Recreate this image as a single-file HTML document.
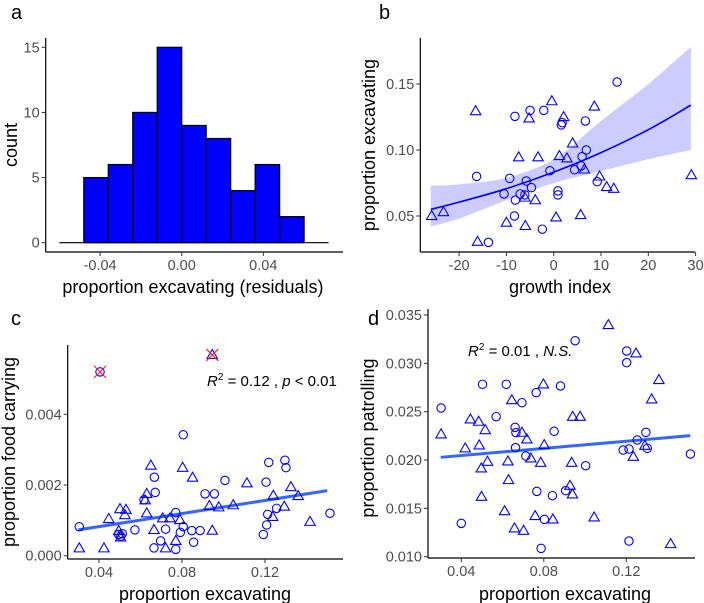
<!DOCTYPE html>
<html><head><meta charset="utf-8"><style>
html,body{margin:0;padding:0;background:#fff}
svg{display:block;font-family:"Liberation Sans",Arial,sans-serif}
.tk{fill:#4d4d4d;font-size:14.5px}
.tt{fill:#000;font-size:18px}
.lt{fill:#000;font-size:20px}
</style></head><body>
<svg id="s" width="704" height="603" viewBox="0 0 704 603" xmlns="http://www.w3.org/2000/svg"></svg>
<script>
// ---- panel a data ----
const histBinStart = [-0.048,-0.036,-0.024,-0.012,0,0.012,0.024,0.036,0.048];
const histCounts = [5,6,10,15,9,8,4,6,2];
const histBinWidth = 0.012;
const aXTicks = [-0.04,0,0.04];
const aXTickLabels = ["-0.04","0.00","0.04"];
const aYTicks = [0,5,10,15];
// ---- panel b data ----
const bCircX = [13.4,-5.0,-2.1,-8.2,1.8,1.6,6.7,6.9,6.0,-0.8,4.4,5.8,-16.3,-9.3,-5.8,-4.7,-10.5,-7.1,-6.1,-8.1,0.9,0.9,9.2,-8.3,-2.4,-13.8];
const bCircY = [0.1515,0.130,0.130,0.1255,0.1207,0.119,0.122,0.100,0.095,0.0843,0.085,0.088,0.080,0.0785,0.0765,0.0715,0.0667,0.0667,0.066,0.062,0.069,0.066,0.076,0.050,0.040,0.030];
const bTriX = [-16.5,-0.4,-5.2,2.1,8.6,4.0,-7.4,-3.3,1.2,2.8,6.5,9.7,11.2,12.7,29.1,-6.1,-3.9,-25.8,-23.3,-10.0,-6.0,0.5,5.7,-16.1];
const bTriY = [0.1295,0.137,0.124,0.125,0.133,0.105,0.0945,0.0945,0.0955,0.0937,0.0853,0.080,0.072,0.0707,0.081,0.064,0.062,0.050,0.053,0.045,0.0425,0.049,0.0508,0.0305];
const bFitX = [-26,-20,-10,0,10,20,29];
const bFitY = [0.055,0.0605,0.0707,0.0832,0.098,0.1154,0.134];
const bFitLo = [0.042,0.048,0.062,0.075,0.084,0.093,0.100];
const bFitHi = [0.073,0.074,0.079,0.093,0.122,0.150,0.178];
const bXTicks = [-20,-10,0,10,20,30];
const bYTicks = [0.05,0.10,0.15];
const bYTickLabels = ["0.05","0.10","0.15"];
// ---- panel c data ----
const cCircX = [0.0405,0.0305,0.0806,0.0667,0.0671,0.0617,0.0495,0.0505,0.0512,0.0573,0.0697,0.0721,0.0665,0.077,0.077,0.0792,0.0806,0.0847,0.0887,0.0856,0.0911,0.0956,0.1007,0.1218,0.1205,0.1296,0.1301,0.1256,0.1213,0.1208,0.1192,0.1513];
const cCircY = [0.0052,0.00082,0.00342,0.00222,0.00179,0.00158,0.0006,0.00055,0.00062,0.00073,0.00042,0.00075,0.00022,0.00018,0.00122,0.00066,0.00082,0.00071,0.00071,0.00038,0.00175,0.00175,0.00213,0.00264,0.00208,0.0027,0.00249,0.00134,0.00117,0.00087,0.0006,0.0012];
const cTriX = [0.0946,0.0305,0.0424,0.0447,0.0501,0.053,0.0525,0.0495,0.0504,0.065,0.063,0.0622,0.063,0.0665,0.0707,0.0742,0.0721,0.077,0.079,0.0803,0.0851,0.0932,0.0946,0.0977,0.1047,0.1113,0.124,0.1237,0.1293,0.1325,0.136,0.1417];
const cTriY = [0.00568,0.00021,0.00021,0.00104,0.00132,0.0013,0.00115,0.0007,0.00052,0.00255,0.00175,0.00157,0.0012,0.00073,0.00106,0.00106,0.00021,0.00042,0.00101,0.00249,0.00221,0.00141,0.00071,0.00137,0.00143,0.00205,0.0017,0.0011,0.00139,0.00194,0.00169,0.00096];
const cOutX = [0.0405,0.0946];
const cOutY = [0.0052,0.00568];
const cFitX = [0.03,0.15];
const cFitY = [0.00073,0.00184];
const cXTicks = [0.04,0.08,0.12];
const cYTicks = [0,0.002,0.004];
const cYTickLabels = ["0.000","0.002","0.004"];
// ---- panel d data ----
const dCircX = [0.0302,0.0503,0.0569,0.0618,0.0694,0.0763,0.0881,0.0952,0.0661,0.0665,0.0663,0.0713,0.085,0.1003,0.0766,0.0842,0.0906,0.0803,0.0787,0.040,0.1202,0.1202,0.1185,0.1213,0.1253,0.1295,0.1302,0.1511,0.1213];
const dCircY = [0.02538,0.02783,0.02448,0.02783,0.02593,0.02697,0.02766,0.03234,0.02338,0.02283,0.02128,0.02041,0.02297,0.01941,0.01676,0.01631,0.01683,0.01386,0.01086,0.01345,0.03128,0.03007,0.02103,0.02114,0.02207,0.02286,0.02121,0.02062,0.01162];
const dTriX = [0.0302,0.0419,0.0444,0.0484,0.0487,0.0516,0.0497,0.0527,0.0498,0.0626,0.0629,0.061,0.0645,0.0658,0.0702,0.0694,0.0718,0.0737,0.0798,0.0802,0.0785,0.0758,0.0844,0.0927,0.0939,0.0935,0.094,0.0976,0.1044,0.1113,0.1247,0.1234,0.129,0.1358,0.1323,0.1415];
const dTriY = [0.02266,0.02121,0.02421,0.02397,0.02152,0.0231,0.01914,0.01983,0.0162,0.01986,0.01793,0.01472,0.0262,0.01293,0.01269,0.02283,0.02214,0.02017,0.02783,0.02155,0.01972,0.01421,0.01386,0.01734,0.01645,0.01972,0.02448,0.02448,0.01407,0.03397,0.03103,0.02034,0.02148,0.02828,0.02628,0.01131];
const dFitX = [0.03,0.151];
const dFitY = [0.02028,0.02252];
const dXTicks = [0.04,0.08,0.12];
const dYTicks = [0.010,0.015,0.020,0.025,0.030,0.035];
const dYTickLabels = ["0.010","0.015","0.020","0.025","0.030","0.035"];

const NS="http://www.w3.org/2000/svg";
const svg=document.getElementById('s');
function mk(tag,attrs,parent,text){const e=document.createElementNS(NS,tag);for(const k in attrs)e.setAttribute(k,attrs[k]);if(text!==undefined)e.textContent=text;(parent||svg).appendChild(e);return e;}
function lin(d0,d1,p0,p1){return v=>p0+(v-d0)*(p1-p0)/(d1-d0);}
function group(name){const g=mk('g',{});return g;}
// smooth path through points (Catmull-Rom)
function smooth(P,move){
  let d=(move?'M':'L')+P[0][0]+','+P[0][1];
  for(let i=0;i<P.length-1;i++){
    const p0=P[Math.max(0,i-1)],p1=P[i],p2=P[i+1],p3=P[Math.min(P.length-1,i+2)];
    const c1=[p1[0]+(p2[0]-p0[0])/6,p1[1]+(p2[1]-p0[1])/6];
    const c2=[p2[0]-(p3[0]-p1[0])/6,p2[1]-(p3[1]-p1[1])/6];
    d+=` C${c1[0]},${c1[1]} ${c2[0]},${c2[1]} ${p2[0]},${p2[1]}`;
  }
  return d;
}

function axes(g,x0,x1,y0,y1,sx,sy,xt,xl,yt,yl){
  const ax=mk('g',{},g);
  
  
  mk('line',{x1:x0,y1:y0,x2:x0,y2:y1,stroke:'#000','stroke-width':1.2},ax);
  mk('line',{x1:x0,y1:y1,x2:x1,y2:y1,stroke:'#000','stroke-width':1.2},ax);
  xt.forEach((v,i)=>{const x=sx(v);
    mk('line',{x1:x,y1:y1,x2:x,y2:y1+4,stroke:'#333','stroke-width':1},ax);
    const t=mk('text',{x:x,y:y1+18,'text-anchor':'middle',class:'tk'},ax,xl[i]);
    
    });
  yt.forEach((v,i)=>{const y=sy(v);
    mk('line',{x1:x0-4,y1:y,x2:x0,y2:y,stroke:'#333','stroke-width':1},ax);
    const t=mk('text',{x:x0-6,y:y+5,'text-anchor':'end',class:'tk'},ax,yl[i]);
    
    });
}
function titles(g,xt,xx,xy,yt,yx,yy){
  const a=mk('text',{x:xx,y:xy,'text-anchor':'middle',class:'tt'},g,xt);
  
  
  const b=mk('text',{x:yx,y:yy,'text-anchor':'middle',class:'tt',transform:`rotate(-90 ${yx} ${yy})`},g,yt);
  
  
}
function letter(g,t,x,y){const e=mk('text',{x:x,y:y,class:'lt'},g,t);
  
  }
function pts(g,X,Y,sx,sy,tri){
  X.forEach((v,i)=>{const x=sx(v),y=sy(Y[i]);let e;
    if(tri) e=mk('polygon',{points:`${x-5.2},${y+3.6} ${x+5.2},${y+3.6} ${x},${y-5.4}`,fill:'none',stroke:'#0000ff','stroke-width':1.1},g);
    else e=mk('circle',{cx:x,cy:y,r:4.2,fill:'none',stroke:'#0000ff','stroke-width':1.1},g);
    
    });
}
function fitline(g,X,Y,sx,sy,col,w){
  const P=X.map((v,i)=>[sx(v),sy(Y[i])]);
  const e=mk('path',{d:smooth(P,true),fill:'none',stroke:col,'stroke-width':w},g);
  
  
}

// Panel a
(function(){
  const g=group('panel-a-histogram');
  const sx=lin(0,0.04,181.7,263.3), sy=lin(0,15,242.7,47.3);
  const base=mk('line',{x1:sx(-0.06),y1:sy(0),x2:sx(0.072),y2:sy(0),stroke:'#000','stroke-width':1.2},g);
  
  
  histBinStart.forEach((b,i)=>{
    const r=mk('rect',{x:sx(b),y:sy(histCounts[i]),width:sx(b+histBinWidth)-sx(b),height:sy(0)-sy(histCounts[i]),fill:'#0000ff',stroke:'#000','stroke-width':1.2},g);
    
    
  });
  axes(g,45.7,343,38,252,sx,sy,aXTicks,aXTickLabels,aYTicks,aYTicks.map(String));
  titles(g,'proportion excavating (residuals)',193,293,'count',17,145);
  letter(g,'a',11,19);
})();
// Panel b
(function(){
  const g=group('panel-b-scatter');
  const sx=lin(0,10,553.7,601), sy=lin(0.05,0.15,216,84);
  const up=bFitX.map((v,i)=>[sx(v),sy(bFitHi[i])]), lo=bFitX.map((v,i)=>[sx(v),sy(bFitLo[i])]).reverse();
  const rb=mk('path',{d:smooth(up,true)+' '+smooth(lo,false)+' Z',fill:'#0000ff','fill-opacity':0.2,stroke:'none'},g);
  
  
  fitline(g,bFitX,bFitY,sx,sy,'#0000ff',1.6);
  pts(g,bCircX,bCircY,sx,sy,false);
  pts(g,bTriX,bTriY,sx,sy,true);
  axes(g,420.3,695,38,252,sx,sy,bXTicks,bXTicks.map(String),bYTicks,bYTickLabels);
  titles(g,'growth index',560,293,'proportion excavating',375,145);
  letter(g,'b',379,19);
})();
// Panel c
(function(){
  const g=group('panel-c-scatter');
  const sx=lin(0.04,0.12,99,265), sy=lin(0,0.004,555.7,414.3);
  fitline(g,cFitX,cFitY,sx,sy,'#3366ff',3);
  pts(g,cCircX,cCircY,sx,sy,false);
  pts(g,cTriX,cTriY,sx,sy,true);
  cOutX.forEach((v,i)=>{const x=sx(v),y=sy(cOutY[i]);
    const e=mk('path',{d:`M${x-6},${y-6}L${x+6},${y+6}M${x+6},${y-6}L${x-6},${y+6}`,stroke:'#ff2020','stroke-width':1.2,fill:'none'},g);
    
    });
  axes(g,67.7,343,345,559,sx,sy,cXTicks,cXTicks.map(v=>v.toFixed(2)),cYTicks,cYTickLabels);
  const t=mk('text',{x:207,y:386,style:'font-size:15px'},g);
  
  
  t.innerHTML='<tspan font-style="italic">R</tspan><tspan dy="-6" font-size="10">2</tspan><tspan dy="6"> = 0.12 , </tspan><tspan font-style="italic">p</tspan><tspan> &lt; 0.01</tspan>';
  titles(g,'proportion excavating',205,600,'proportion food carrying',15,452);
  letter(g,'c',11,325);
})();
// Panel d
(function(){
  const g=group('panel-d-scatter');
  const sx=lin(0.04,0.12,461.3,626.3), sy=lin(0.010,0.035,556.7,315);
  fitline(g,dFitX,dFitY,sx,sy,'#3366ff',3);
  pts(g,dCircX,dCircY,sx,sy,false);
  pts(g,dTriX,dTriY,sx,sy,true);
  axes(g,428,695,309,558,sx,sy,dXTicks,dXTicks.map(v=>v.toFixed(2)),dYTicks,dYTickLabels);
  const t=mk('text',{x:468,y:356,style:'font-size:15px'},g);
  
  
  t.innerHTML='<tspan font-style="italic">R</tspan><tspan dy="-6" font-size="10">2</tspan><tspan dy="6"> = 0.01 , </tspan><tspan font-style="italic">N.S.</tspan>';
  titles(g,'proportion excavating',565,600,'proportion patrolling',374,438);
  letter(g,'d',368,325);
})();
</script>
</body></html>
